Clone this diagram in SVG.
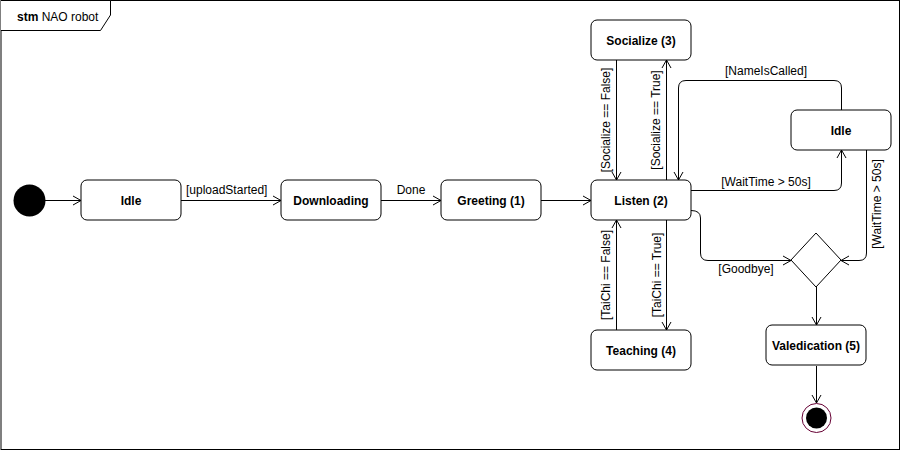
<svg xmlns="http://www.w3.org/2000/svg" width="901" height="451" viewBox="0 0 901 451">
<style>
.node rect{fill:#fff;stroke:#000;stroke-width:1}
.nl{font-family:"Liberation Sans",Arial,sans-serif;font-size:12px;font-weight:bold;fill:#000;text-anchor:middle;dominant-baseline:central}
.el{font-family:"Liberation Sans",Arial,sans-serif;font-size:12px;fill:#000;text-anchor:middle}
.vl{font-family:"Liberation Sans",Arial,sans-serif;font-size:12px;fill:#000;text-anchor:middle;dominant-baseline:central}
.edge{fill:none;stroke:#000;stroke-width:1;marker-end:url(#open)}
</style>
<defs>
<marker id="open" markerUnits="userSpaceOnUse" markerWidth="12" markerHeight="12" viewBox="0 0 12 12" refX="10" refY="6" orient="auto">
<path d="M2,1.5 L10,6 L2,10.5" fill="none" stroke="#000" stroke-width="1"/>
</marker>
</defs>
<rect width="901" height="451" fill="#fff"/>
<g id="frame">
<rect x="1" y="0.5" width="898.5" height="449" fill="none" stroke="#000"/>
<path d="M1,0.5 H110.5 V15 L100.5,30.5 H1" fill="#fff" stroke="#000"/>
<text x="17" y="20.5" font-family="Liberation Sans,Arial,sans-serif" font-size="12" fill="#000"><tspan font-weight="bold">stm</tspan> NAO robot</text>
</g>
<g id="connectors">
<path class="edge" d="M45,200.5 H81"/>
<path class="edge" d="M181,200.5 H281"/>
<text class="el" x="186" y="194" style="text-anchor:start">[uploadStarted]</text>
<path class="edge" d="M381,200.5 H441"/>
<text class="el" x="411" y="194">Done</text>
<path class="edge" d="M541,200.5 H591"/>
<path class="edge" d="M616.5,60 V180"/>
<text class="vl" transform="translate(606,120) rotate(-90)">[Socialize == False]</text>
<path class="edge" d="M666.5,180 V60"/>
<text class="vl" transform="translate(656,120) rotate(-90)">[Socialize == True]</text>
<path class="edge" d="M616.5,330 V220"/>
<text class="vl" transform="translate(606,275) rotate(-90)">[TaiChi == False]</text>
<path class="edge" d="M666.5,220 V330"/>
<text class="vl" transform="translate(657,275) rotate(-90)">[TaiChi == True]</text>
<path class="edge" d="M841.5,110 V88 Q841.5,80.5 834,80.5 H686 Q678.5,80.5 678.5,88 V180"/>
<text class="el" x="766" y="75">[NameIsCalled]</text>
<path class="edge" d="M691,190.5 H834 Q841.5,190.5 841.5,183 V150"/>
<text class="el" x="766" y="186">[WaitTime &gt; 50s]</text>
<path class="edge" d="M866.5,150 V253 Q866.5,260.5 859,260.5 H841"/>
<text class="vl" transform="translate(877,204) rotate(-90)">[WaitTime &gt; 50s]</text>
<path class="edge" d="M691,210.5 Q700.5,210.5 700.5,218 V253 Q700.5,260.5 708,260.5 H791"/>
<text class="el" x="746" y="273">[Goodbye]</text>
<path class="edge" d="M816.5,287 V325"/>
<path class="edge" d="M816.5,366 V403"/>
</g>
<g id="initial"><circle cx="29.5" cy="200.5" r="16" fill="#000"/></g>
<g id="idle" class="node"><rect x="81" y="180" width="100" height="40" rx="6"/><text class="nl" x="131" y="201">Idle</text></g>
<g id="downloading" class="node"><rect x="281" y="180" width="100" height="40" rx="6"/><text class="nl" x="331" y="201">Downloading</text></g>
<g id="greeting" class="node"><rect x="441" y="180" width="100" height="40" rx="6"/><text class="nl" x="491" y="201">Greeting (1)</text></g>
<g id="listen" class="node"><rect x="591" y="180" width="100" height="40" rx="6"/><text class="nl" x="641" y="201">Listen (2)</text></g>
<g id="socialize" class="node"><rect x="591" y="20" width="100" height="40" rx="6"/><text class="nl" x="641" y="41">Socialize (3)</text></g>
<g id="teaching" class="node"><rect x="591" y="330" width="100" height="40" rx="6"/><text class="nl" x="641" y="351">Teaching (4)</text></g>
<g id="idle2" class="node"><rect x="791" y="110" width="100" height="40" rx="6"/><text class="nl" x="841" y="131">Idle</text></g>
<g id="decision"><polygon points="816,233 841,260 816,287 791,260" fill="#fff" stroke="#000"/></g>
<g id="valedication" class="node"><rect x="766" y="325" width="100" height="40" rx="6"/><text class="nl" x="816" y="346">Valedication (5)</text></g>
<g id="final"><circle cx="816.5" cy="418" r="14.5" fill="#fff" stroke="#660033" stroke-width="1"/><circle cx="816.5" cy="418" r="10.5" fill="#000"/></g>
</svg>
